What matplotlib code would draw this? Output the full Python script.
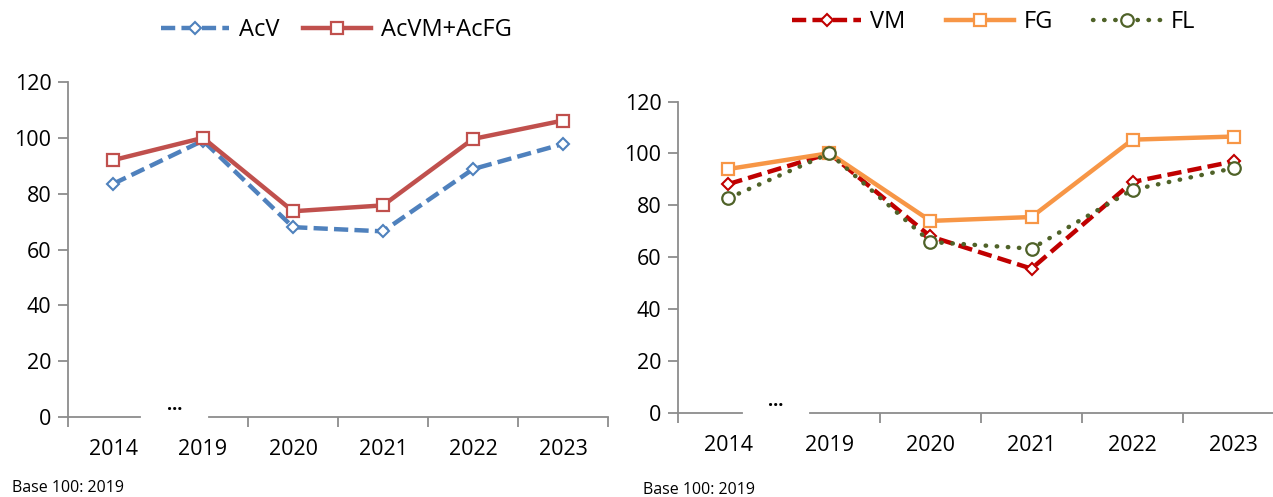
import matplotlib.pyplot as plt
import numpy as np

plt.rcParams["font.family"] = ["Open Sans", "DejaVu Sans"]

years = ["2014", "2019", "2020", "2021", "2022", "2023"]

# left panel
acv = [83.5, 99.0, 68.0, 66.5, 88.8, 97.8]
acvm_acfg = [92.0, 100.0, 73.7, 75.8, 99.6, 106.2]

# right panel
vm = [88.2, 100.0, 68.0, 55.6, 89.0, 96.9]
fg = [94.0, 100.1, 74.0, 75.5, 105.3, 106.5]
fl = [82.8, 100.0, 65.9, 63.3, 86.0, 94.3]

AXIS_GREY = "#8c8c8c"
TICK_FS = 15.5
LEG_FS = 17


def style_axis(ax, gap):
    x = np.arange(len(years))
    ax.set_xlim(-0.5, len(years) - 0.5)
    ax.set_ylim(0, 120)
    ax.set_yticks(range(0, 121, 20))
    ax.set_xticks(x)
    ax.set_xticklabels(years)
    # category boundary ticks, the one inside the break is left out
    bounds = [b for b in np.arange(-0.5, len(years), 1.0) if not (gap[0] < b < gap[1])]
    ax.set_xticks(bounds, minor=True)
    ax.tick_params(axis="x", which="major", length=0, pad=16, labelsize=TICK_FS)
    ax.tick_params(axis="x", which="minor", length=7, width=1.3, color=AXIS_GREY)
    ax.tick_params(axis="y", length=7, width=1.3, color=AXIS_GREY, pad=5, labelsize=TICK_FS)
    for s in ["top", "right", "bottom"]:
        ax.spines[s].set_visible(False)
    ax.spines["left"].set_color(AXIS_GREY)
    ax.spines["left"].set_linewidth(1.3)
    # broken x axis line
    tr = ax.get_xaxis_transform()
    ax.plot([-0.5, gap[0]], [0, 0], color=AXIS_GREY, lw=1.3, transform=tr, clip_on=False)
    ax.plot([gap[1], len(years) - 0.5], [0, 0], color=AXIS_GREY, lw=1.3, transform=tr, clip_on=False)
    ax.text((gap[0] + gap[1]) / 2, 0.01, "...", transform=tr, ha="center", va="bottom",
            fontsize=13, fontweight="bold")


fig = plt.figure(figsize=(12.73, 4.97), dpi=100)
ax1 = fig.add_axes([68 / 1273, 80 / 497, 540 / 1273, 335 / 497])
ax2 = fig.add_axes([678 / 1273, 84 / 497, 606 / 1273, 311.5 / 497])

x = np.arange(len(years))

l1, = ax1.plot(x, acv, color="#4F81BD", lw=3.2, linestyle=(0, (3.2, 1.4)),
               marker="D", markersize=6.5, markerfacecolor="white", markeredgewidth=1.5)
l2, = ax1.plot(x, acvm_acfg, color="#C0504D", lw=3.2,
               marker="s", markersize=9, markerfacecolor="white", markeredgewidth=1.6)
style_axis(ax1, (0.3, 1.07))

l3, = ax2.plot(x, vm, color="#C00000", lw=3.2, linestyle=(0, (3.2, 1.4)),
               marker="D", markersize=6.5, markerfacecolor="white", markeredgewidth=1.5)
l4, = ax2.plot(x, fg, color="#F79646", lw=3.2,
               marker="s", markersize=9, markerfacecolor="white", markeredgewidth=1.6)
l5, = ax2.plot(x, fl, color="#4F6228", lw=3.2, linestyle=(0, (0.1, 2.4)),
               dash_capstyle="round",
               marker="o", markersize=9, markerfacecolor="white", markeredgewidth=1.6)
style_axis(ax2, (0.13, 0.81))

fig.legend([l1, l2], ["AcV", "AcVM+AcFG"], loc="center", bbox_to_anchor=(336 / 1273, 1 - 30 / 497),
           ncol=2, frameon=False, fontsize=LEG_FS, handlelength=2.9, handletextpad=0.4,
           columnspacing=1.0)
fig.legend([l3, l4, l5], ["VM", "FG", "FL"], loc="center", bbox_to_anchor=(994 / 1273, 1 - 22 / 497),
           ncol=3, frameon=False, fontsize=LEG_FS, handlelength=2.9, handletextpad=0.4,
           columnspacing=1.7)

fig.text(12 / 1273, 1 - 488 / 497, "Base 100: 2019", fontsize=11.5, va="center", ha="left")
fig.text(643 / 1273, 1 - 490 / 497, "Base 100: 2019", fontsize=11.5, va="center", ha="left")

fig.savefig("out.png", dpi=100)
